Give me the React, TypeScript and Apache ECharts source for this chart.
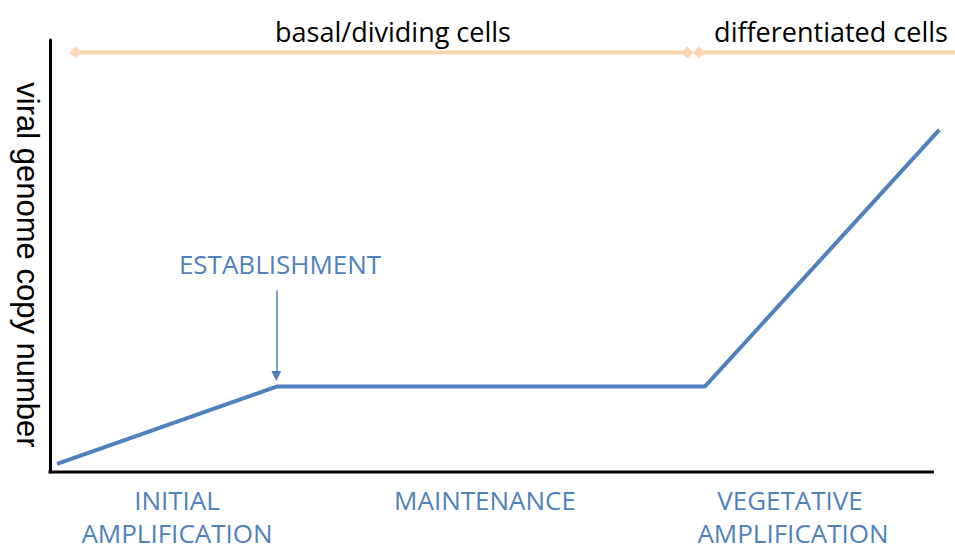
import React, { useEffect, useRef } from "react";
import * as echarts from "echarts";

// Main curve: phase positions (x, arbitrary time units) and viral copy number (y, arbitrary units)
const phaseX = [0.8, 25.7, 74.1, 100.6];
const copyNumber = [1.9, 19.8, 19.8, 79.2];

// Horizontal axis baseline extent (time axis drawn from 0 to 100)
const timeAxisX = [-0.17, 100];

// Cell-state bars across the top
const basalBarX = [2.9, 72.1];
const diffBarX = [73.4, 102.4];
const cellBarY = 97.1;

// Establishment arrow
const arrowX = 25.6;
const arrowY = [42.1, 22.2];

const topLabels = ["basal/dividing cells", "differentiated cells"];
const phaseLabels = [["INITIAL", "AMPLIFICATION"], ["MAINTENANCE"], ["VEGETATIVE", "AMPLIFICATION"]];
const establishmentLabel = "ESTABLISHMENT";
const yAxisName = "viral genome copy number";

const BLUE = "#4F81BD";
const PEACH = "#FCD5B4";
const SANS = "'Open Sans', 'Noto Sans', sans-serif";

export default function App() {
  const ref = useRef<HTMLDivElement>(null);

  useEffect(() => {
    if (!ref.current) return;
    const chart = echarts.init(ref.current, undefined, { renderer: "svg" });

    const mainData = phaseX.map((x, i) => [x, copyNumber[i]]);
    const basalData = basalBarX.map((x) => ({ value: [x, cellBarY], symbol: "diamond" }));
    const diffData = diffBarX.map((x, i) => ({
      value: [x, cellBarY],
      symbol: i === 0 ? "diamond" : "none",
    }));
    const baseData = timeAxisX.map((x) => [x, 0]);

    const blueText = (text: string, x: number, y: number) => ({
      type: "text",
      x,
      y,
      style: {
        text,
        fill: BLUE,
        fontSize: 26,
        fontFamily: SANS,
        align: "center",
        verticalAlign: "middle",
        lineHeight: 26,
      },
    });
    const blackText = (text: string, x: number, y: number) => ({
      type: "text",
      x,
      y,
      style: {
        text,
        fill: "#000",
        fontSize: 27,
        fontFamily: SANS,
        align: "center",
        verticalAlign: "middle",
      },
    });

    chart.setOption({
      animation: false,
      backgroundColor: "#fff",
      grid: { left: 50, right: 0, top: 40, bottom: 80, containLabel: false },
      xAxis: {
        type: "value",
        min: 0,
        max: 102.38,
        axisLine: { show: false },
        axisTick: { show: false },
        axisLabel: { show: false },
        splitLine: { show: false },
      },
      yAxis: {
        type: "value",
        min: 0,
        max: 100,
        axisLine: { show: true, onZero: false, lineStyle: { color: "#000", width: 3 } },
        axisTick: { show: false },
        axisLabel: { show: false },
        splitLine: { show: false },
      },
      series: [
        {
          type: "line",
          data: baseData,
          clip: false,
          showSymbol: false,
          symbol: "none",
          lineStyle: { color: "#000", width: 3, cap: "butt" },
        },
        {
          type: "line",
          data: mainData,
          clip: false,
          showSymbol: false,
          symbol: "none",
          lineStyle: { color: BLUE, width: 4 },
          markLine: {
            silent: true,
            symbol: ["none", "triangle"],
            symbolSize: [10, 10],
            label: { show: false },
            lineStyle: { color: BLUE, width: 1.5, type: "solid" },
            data: [
              [
                { coord: [arrowX, arrowY[0]] },
                { coord: [arrowX, arrowY[1]] },
              ],
            ],
          },
        },
        {
          type: "line",
          data: basalData,
          clip: false,
          symbolSize: 12,
          showSymbol: true,
          itemStyle: { color: PEACH },
          lineStyle: { color: PEACH, width: 4 },
        },
        {
          type: "line",
          data: diffData,
          clip: false,
          symbolSize: 12,
          showSymbol: true,
          itemStyle: { color: PEACH },
          lineStyle: { color: PEACH, width: 4 },
        },
      ],
      graphic: [
        {
          type: "text",
          x: 27,
          y: 265,
          rotation: -Math.PI / 2,
          style: {
            text: yAxisName,
            fill: "#000",
            fontSize: 31,
            fontFamily: "'Liberation Sans', Arial, sans-serif",
            align: "center",
            verticalAlign: "middle",
          },
        },
        blackText(topLabels[0], 393, 31),
        blackText(topLabels[1], 831, 31),
        blueText(establishmentLabel, 280, 264),
        blueText(phaseLabels[0][0], 177, 500),
        blueText(phaseLabels[0][1], 177, 533),
        blueText(phaseLabels[1][0], 485, 500),
        blueText(phaseLabels[2][0], 790, 500),
        blueText(phaseLabels[2][1], 793, 533),
      ],
    });

    return () => chart.dispose();
  }, []);

  return (
    <div
      ref={ref}
      style={{ position: "fixed", left: 0, top: 0, width: 955, height: 552 }}
    />
  );
}
